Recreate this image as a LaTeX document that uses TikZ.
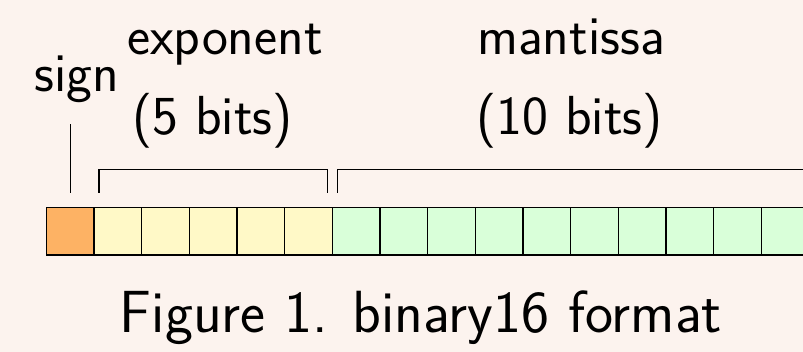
\documentclass[tikz,border=0pt]{standalone}
\usetikzlibrary{calc}
\definecolor{bgc}{RGB}{252,243,238}
\definecolor{signc}{RGB}{253,178,100}
\definecolor{expc}{RGB}{255,249,199}
\definecolor{manc}{RGB}{217,255,217}
\begin{document}
\begin{tikzpicture}[x=1pt,y=-1pt,
  cell/.style={draw=black,line width=1.3pt,minimum width=47.67pt,minimum height=47.8pt,inner sep=0pt,outer sep=0pt,anchor=north west},
  lbl/.style={font=\sffamily\fontsize{55}{64}\selectfont,anchor=base,inner sep=0pt},
  captext/.style={font=\sffamily\fontsize{59.5}{70}\selectfont,anchor=base,inner sep=0pt},
  brk/.style={draw=black,line width=1.2pt}]
\fill[bgc] (0,0) rectangle (803,352);
\useasboundingbox (0,0) rectangle (803,352);
% cells
\node[cell,fill=signc] (c0) at (46.3,207.3) {};
\foreach \i in {1,...,5}{
  \node[cell,fill=expc] (c\i) at ({46.3+47.67*\i},207.3) {};
}
\foreach \i in {6,...,15}{
  \node[cell,fill=manc] (c\i) at ({46.3+47.67*\i},207.3) {};
}
% labels
\node[lbl] (sign) at (77,92) {sign};
\node[lbl] (exp) at (225,55) {exponent};
\node[lbl] (expb) at (212.5,135) {(5 bits)};
\node[lbl] (man) at (571,55) {mantissa};
\node[lbl] (manb) at (569.5,135) {(10 bits)};
\node[captext] (caption) at (421,333) {Figure 1. binary16 format};
% brackets
\coordinate (s1) at ($(c0.north)+(0,-83)$);
\coordinate (s2) at ($(c0.north)+(0,-14.5)$);
\draw[brk] (s1) -- (s2);
\coordinate (e1) at ($(c1.north west)+(5,-14.5)$);
\coordinate (e2) at ($(c1.north west)+(5,-37.6)$);
\coordinate (e3) at ($(c5.north east)+(-5,-37.6)$);
\coordinate (e4) at ($(c5.north east)+(-5,-14.5)$);
\draw[brk] (e1) -- (e2) -- (e3) -- (e4);
\coordinate (m1) at ($(c6.north west)+(5,-14.5)$);
\coordinate (m2) at ($(c6.north west)+(5,-37.6)$);
\coordinate (m3) at ($(c15.north east)+(-5,-37.6)$);
\coordinate (m4) at ($(c15.north east)+(-5,-14.5)$);
\draw[brk] (m1) -- (m2) -- (m3) -- (m4);
\end{tikzpicture}
\end{document}
